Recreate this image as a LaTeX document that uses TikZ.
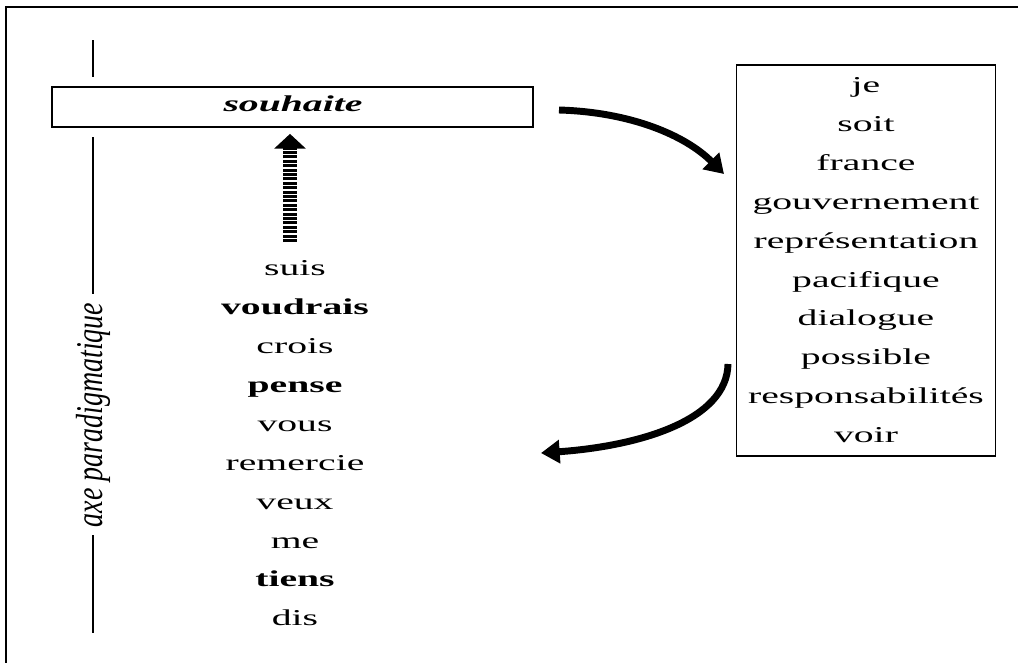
\documentclass[tikz,border=0pt]{standalone}
\usepackage{fontspec}
\setmainfont{Liberation Serif}
\usetikzlibrary{arrows.meta}
\newcommand\stretchtxt[1]{\scalebox{1.75}[1]{#1}}
\begin{document}
\begin{tikzpicture}[x=0.75pt,y=-0.75pt,
  word/.style={inner sep=0pt,font=\fontsize{17pt}{18pt}\selectfont,text height=11pt,text depth=3.5pt},
  frame/.style={line width=1.8pt},
  axis/.style={line width=1.5pt},
  box/.style={draw,line width=1.3pt,inner sep=0pt},
  curvedarrow/.style={line width=5.2pt,-{Triangle[length=14pt,width=17pt]}},
  dasharrow/.style={line width=11pt,dash pattern=on 2.3pt off 1pt,-{Triangle[length=11pt,width=23pt]}}]
\useasboundingbox (0,0) rectangle (1018,662);
% outer frame
\draw[frame] (6,663) -- (6,7) -- (1019,7);
% paradigmatic axis
\draw[axis] (93,40) -- (93,77);
\draw[axis] (93,137) -- (93,294);
\node[rotate=90,inner sep=0pt,font=\fontsize{21pt}{24pt}\selectfont\itshape] (axlabel) at (93,415) {\scalebox{1}[1.35]{axe paradigmatique}};
\draw[axis] (93,535) -- (93,633);
% souhaite box
\node[box,minimum width=481*0.75pt,minimum height=40*0.75pt] (souhaite) at (292.5,107) {};
\node[word,font=\fontsize{17pt}{18pt}\selectfont\bfseries\itshape] (souhaitetxt) at (293,106) {\stretchtxt{souhaite}};
% left column
\node[word] (w1) at (295,270) {\stretchtxt{suis}};
\node[word] (w2) at (295,309) {\stretchtxt{\textbf{voudrais}}};
\node[word] (w3) at (295,348) {\stretchtxt{crois}};
\node[word] (w4) at (295,387) {\stretchtxt{\textbf{pense}}};
\node[word] (w5) at (295,426) {\stretchtxt{vous}};
\node[word] (w6) at (295,465) {\stretchtxt{remercie}};
\node[word] (w7) at (295,504) {\stretchtxt{veux}};
\node[word] (w8) at (295,543) {\stretchtxt{me}};
\node[word] (w9) at (295,581) {\stretchtxt{\textbf{tiens}}};
\node[word] (w10) at (295,620) {\stretchtxt{dis}};
% right box
\node[box,minimum width=259*0.75pt,minimum height=391*0.75pt] (rbox) at (866,260.5) {};
\node[word] (r1) at (866,87) {\stretchtxt{je}};
\node[word] (r2) at (866,126) {\stretchtxt{soit}};
\node[word] (r3) at (866,165) {\stretchtxt{france}};
\node[word] (r4) at (866,204) {\stretchtxt{gouvernement}};
\node[word] (r5) at (866,243) {\stretchtxt{représentation}};
\node[word] (r6) at (866,282) {\stretchtxt{pacifique}};
\node[word] (r7) at (866,320) {\stretchtxt{dialogue}};
\node[word] (r8) at (866,359) {\stretchtxt{possible}};
\node[word] (r9) at (866,398) {\stretchtxt{responsabilités}};
\node[word] (r10) at (866,437) {\stretchtxt{voir}};
% connectors
\coordinate (up0) at (290,242);
\draw[dasharrow,shorten >=4.5pt] (up0) -- (souhaite.south -| up0);
\coordinate (a1s) at (559,110);
\coordinate (a1e) at (724,174);
\draw[curvedarrow] (a1s) .. controls (630,112) and (685,135) .. (a1e);
\coordinate (a2s) at (728,364);
\coordinate (a2e) at (541,453);
\draw[curvedarrow] (a2s) .. controls (727,420) and (640,446) .. (a2e);
\end{tikzpicture}
\end{document}
